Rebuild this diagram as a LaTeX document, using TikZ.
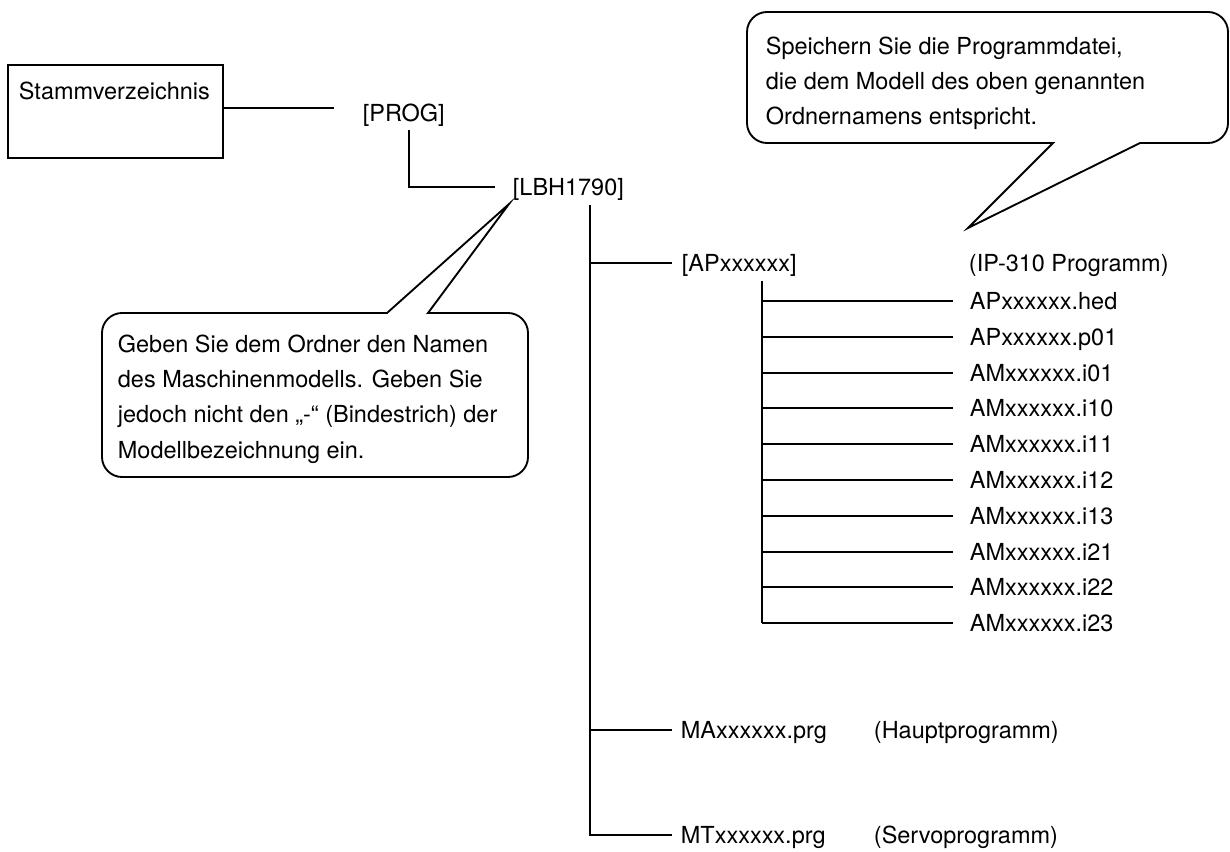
\documentclass[tikz,border=0pt]{standalone}
\usepackage{fontspec}
\setmainfont{TeX Gyre Heros}
\usetikzlibrary{calc}
\begin{document}
\begin{tikzpicture}[x=0.75pt,y=-0.75pt,line width=1.4pt,
  lbl/.style={anchor=west, inner sep=0pt, text height=12.6pt, text depth=0pt, font=\fontsize{17.6}{21}\selectfont},
  note/.style={anchor=north west, inner sep=0pt, align=left, font=\fontsize{17.6}{26.6}\selectfont},
  callout/.style={draw, line width=1.4pt, line join=miter, fill=white},
  rootbox/.style={draw, anchor=north west, minimum width=161.25pt, minimum height=69.75pt, inner sep=0pt}]
\useasboundingbox (0,0) rectangle (1230,852);

% root
\node[rootbox] (stamm) at (7,64) {};
\node[lbl] (stammtxt) at (18,91) {Stammverzeichnis};
\node[lbl] (prog) at (362,113) {[PROG]};
\node[lbl] (lbh) at (512,187) {[LBH1790]};
\draw ($(stamm.north east)+(0,44)$) -- ($(prog.west)+(-28,-5)$);
\draw ($(prog.west)+(47,17)$) |- ($(lbh.west)+(-17,0)$);

% level 3
\node[lbl] (ap) at (681,263) {[APxxxxxx]};
\node[lbl] (ipn) at (968,263) {(IP-310 Programm)};
\node[lbl] (ma) at (680,730) {MAxxxxxx.prg};
\node[lbl] (haupt) at (873,730) {(Hauptprogramm)};
\node[lbl] (mt) at (680,835) {MTxxxxxx.prg};
\node[lbl] (servo) at (873,835) {(Servoprogramm)};
\draw ($(lbh.west)+(78,18)$) |- ($(mt.west)+(-8,0)$);
\draw ($(ap.west)+(-91,0)$) -- ($(ap.west)+(-9,0)$);
\draw ($(ma.west)+(-90,0)$) -- ($(ma.west)+(-8,0)$);

% files
\foreach \n [count=\i from 0] in {APxxxxxx.hed,APxxxxxx.p01,AMxxxxxx.i01,AMxxxxxx.i10,AMxxxxxx.i11,AMxxxxxx.i12,AMxxxxxx.i13,AMxxxxxx.i21,AMxxxxxx.i22,AMxxxxxx.i23}{
  \node[lbl] (f\i) at (969,{301+35.8*\i}) {\n};
  \draw ($(f\i.west)+(-207,0)$) -- ($(f\i.west)+(-16,0)$);
}
\draw ($(ap.west)+(81,18)$) -- ($(f9.west)+(-207,0)$);

% left callout
\draw[callout] (387,313) -- (509,204) -- (428,313) -- (508,313)
  .. controls (519,313) and (528,322) .. (528,333) -- (528,457)
  .. controls (528,468) and (519,477) .. (508,477) -- (122,477)
  .. controls (111,477) and (102,468) .. (102,457) -- (102,333)
  .. controls (102,322) and (111,313) .. (122,313) -- cycle;
\node[note] (note1) at (117,333.6) {Geben Sie dem Ordner den Namen\\des Maschinenmodells. Geben Sie\\jedoch nicht den „-“ (Bindestrich) der\\Modellbezeichnung ein.};

% right callout
\draw[callout] (1053,143) -- (968,228) -- (1140,143) -- (1208,143)
  .. controls (1219,143) and (1228,134) .. (1228,123) -- (1228,32)
  .. controls (1228,21) and (1219,12) .. (1208,12) -- (767,12)
  .. controls (756,12) and (747,21) .. (747,32) -- (747,123)
  .. controls (747,134) and (756,143) .. (767,143) -- cycle;
\node[note] (note2) at (765,35.6) {Speichern Sie die Programmdatei,\\die dem Modell des oben genannten\\Ordnernamens entspricht.};
\end{tikzpicture}
\end{document}
